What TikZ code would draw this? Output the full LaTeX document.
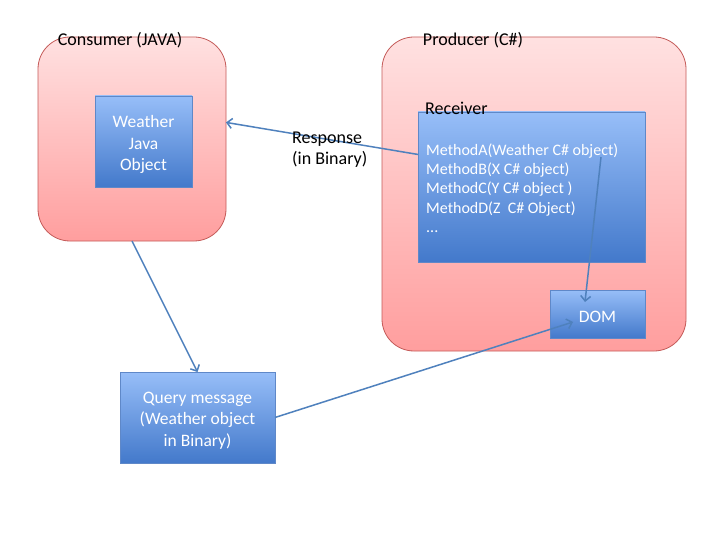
\documentclass[tikz,border=0pt]{standalone}
\usepackage{fontspec}
\setmainfont{Carlito}
\usetikzlibrary{arrows.meta,shadows}
\definecolor{pinktop}{HTML}{FFE1E1}
\definecolor{pinkbot}{HTML}{FF9E9E}
\definecolor{pinkline}{HTML}{C45A58}
\definecolor{bluetop}{HTML}{97BEF8}
\definecolor{bluebot}{HTML}{4379CB}
\definecolor{blueline}{HTML}{5F88C8}
\definecolor{arrowblue}{HTML}{4F81BD}
\tikzset{
  side/.style={draw=pinkline, line width=0.8pt, rounded corners=32pt,
    top color=pinktop, bottom color=pinkbot, inner sep=0pt, outer sep=0pt},
  part/.style={draw=blueline, line width=0.6pt, top color=bluetop, bottom color=bluebot,
    inner sep=0pt, outer sep=0pt,
    drop shadow={opacity=0.25, shadow xshift=1pt, shadow yshift=-1pt}},
  partlbl/.style={text=white, align=center, inner sep=0pt, yshift=-3pt,
    font=\fontsize{17.5}{21.5}\selectfont},
  msg/.style={draw=arrowblue, line width=1.5pt, -{Straight Barb[length=5pt,width=10pt]}},
  lbl/.style={font=\fontsize{18}{21}\selectfont, inner sep=0pt}
}
\begin{document}
\begin{tikzpicture}[x=1pt,y=-1pt]
  \useasboundingbox[fill=white] (0,0) rectangle (720,540);
  %% the two sides
  \node[side, minimum width=188pt, minimum height=204pt] (consumer) at (132,139) {};
  \node[side, minimum width=304pt, minimum height=314pt] (producer) at (534,194) {};
  \node[lbl] at (120,40) {Consumer (JAVA)};
  \node[lbl] at (473,40) {Producer (C\#)};
  %% boxes
  \node[part, minimum width=97pt, minimum height=91pt] (weather) at (143.5,141.5) {};
  \node[partlbl] at (weather) {Weather\\Java\\Object};
  \node[part, minimum width=227pt, minimum height=150pt] (receiver) at (531.5,187) {};
  \node[lbl, anchor=west] at (425,108) {Receiver};
  \node[anchor=west, align=left, inner sep=0pt, text=white,
    font=\fontsize{16}{19.3}\selectfont] (methods) at (426,188)
    {MethodA(Weather C\# object)\\MethodB(X C\# object)\\MethodC(Y C\# object )\\MethodD(Z~~C\# Object)\\...};
  \node[part, minimum width=95pt, minimum height=48pt] (dom) at (597.5,314) {};
  \node[partlbl] at (dom) {DOM};
  \node[part, minimum width=155pt, minimum height=91pt] (query) at (197.5,417.5) {};
  \node[partlbl] at (query) {Query message\\(Weather object\\in Binary)};
  %% messages
  \coordinate (callA) at (601,157);
  \coordinate (domin) at (573,322);
  \coordinate (domtop) at (585,302);
  \draw[msg] (receiver.164) -- (consumer.10);
  \node[lbl, anchor=west, align=left] at (292,150) {Response\\(in Binary)};
  \draw[msg] (consumer.south) -- (query.north);
  \draw[msg] (query.east) -- (domin);
  \draw[msg] (callA) -- (domtop);
\end{tikzpicture}
\end{document}
